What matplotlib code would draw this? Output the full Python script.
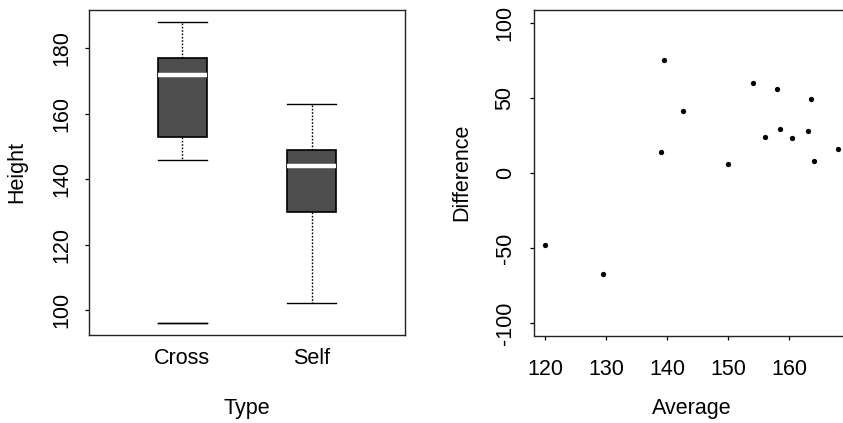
import matplotlib
matplotlib.use("Agg")
import matplotlib.pyplot as plt
import numpy as np

plt.rcParams['font.family'] = ['Liberation Sans', 'DejaVu Sans']

# Darwin's Zea mays data
cross = [188, 96, 168, 176, 153, 172, 177, 163, 146, 173, 186, 168, 177, 184, 96]
self_ = [139, 163, 160, 160, 147, 149, 149, 122, 132, 144, 130, 144, 102, 124, 144]
groups = ["Cross", "Self"]
height_ticks = [100, 120, 140, 160, 180]
avg_ticks = [120, 130, 140, 150, 160]
diff_ticks = [-100, -50, 0, 50, 100]

diff = [c - s for c, s in zip(cross, self_)]
avg = [(c + s) / 2 for c, s in zip(cross, self_)]

W, H = 843, 423
fig = plt.figure(figsize=(W / 100, H / 100), dpi=100)

def fx(px):
    return px / W

def fy(py):
    return 1 - py / H

FS = 15.5
BW = 0.377


def box_stats(data, label):
    d = np.sort(np.asarray(data, dtype=float))
    q1 = np.percentile(d, 25, method='lower')
    q3 = np.percentile(d, 75, method='lower')
    med = np.median(d)
    iqr = q3 - q1
    lo_f, hi_f = q1 - 1.5 * iqr, q3 + 1.5 * iqr
    inside = d[(d >= lo_f) & (d <= hi_f)]
    fl = d[(d < lo_f) | (d > hi_f)]
    return dict(label=label, med=med, q1=q1, q3=q3,
                whislo=inside.min(), whishi=inside.max(), fliers=fl)


# ---------------- left: boxplot ----------------
ax1 = fig.add_axes([fx(88.7), fy(335), fx(405.3) - fx(88.7), fy(10.3) - fy(335)])
stats = [box_stats(cross, groups[0]), box_stats(self_, groups[1])]
bp = ax1.bxp(stats, positions=[1, 2], widths=BW, patch_artist=True, showfliers=False)
for b in bp['boxes']:
    b.set_facecolor('#4d4d4d')
    b.set_edgecolor('black')
    b.set_linewidth(1.2)
for m in bp['medians']:
    m.set_color('white')
    m.set_linewidth(3.2)
for w in bp['whiskers']:
    w.set_color('black')
    w.set_linestyle((0, (1.2, 1.2)))
    w.set_linewidth(1.0)
for c in bp['caps']:
    c.set_color('black')
    c.set_linewidth(1.0)
    xd = c.get_xdata()
    mid = (xd[0] + xd[1]) / 2
    c.set_xdata([mid - BW / 2, mid + BW / 2])
# outliers drawn as horizontal segments
for pos, st in zip([1, 2], stats):
    for v in st['fliers']:
        ax1.plot([pos - BW / 2, pos + BW / 2], [v, v], color='black', lw=1.0)

ax1.set_xlim(0.282, 2.718)
ax1.set_ylim(92.32, 191.68)
ax1.set_yticks(height_ticks)
ax1.set_yticklabels([str(t) for t in height_ticks], rotation=90, va='center')
ax1.set_xticks([1, 2])
ax1.set_xticklabels(groups)
ax1.tick_params(axis='y', length=3, width=0.9, pad=9, labelsize=FS)
ax1.tick_params(axis='x', length=0, pad=9, labelsize=FS)
for s in ax1.spines.values():
    s.set_linewidth(1.0)
    s.set_color('#222222')
fig.text(fx(17), fy(172), "Height", rotation=90, ha='center', va='center', fontsize=FS)
fig.text(fx(247), fy(408), "Type", ha='center', va='center', fontsize=FS)

# ---------------- right: scatter ----------------
ax2 = fig.add_axes([fx(533.7), fy(335.5), fx(849.7) - fx(533.7), fy(10.5) - fy(335.5)])
ax2.plot(avg, diff, 'o', color='black', markersize=3.8, markeredgewidth=0)
ax2.set_xlim(118.08, 169.92)
ax2.set_ylim(-108, 108)
ax2.set_xticks(avg_ticks)
ax2.set_xticklabels([str(t) for t in avg_ticks])
ax2.set_yticks(diff_ticks)
ax2.set_yticklabels([str(t) for t in diff_ticks], rotation=90, va='center')
ax2.tick_params(axis='y', length=3, width=0.9, pad=10, labelsize=FS)
ax2.tick_params(axis='x', length=3, width=0.9, pad=14, labelsize=FS)
for s in ax2.spines.values():
    s.set_linewidth(1.0)
    s.set_color('#222222')
fig.text(fx(461.7), fy(172), "Difference", rotation=90, ha='center', va='center', fontsize=FS)
fig.text(fx(692), fy(408), "Average", ha='center', va='center', fontsize=FS)

fig.savefig("out.png", dpi=100)
